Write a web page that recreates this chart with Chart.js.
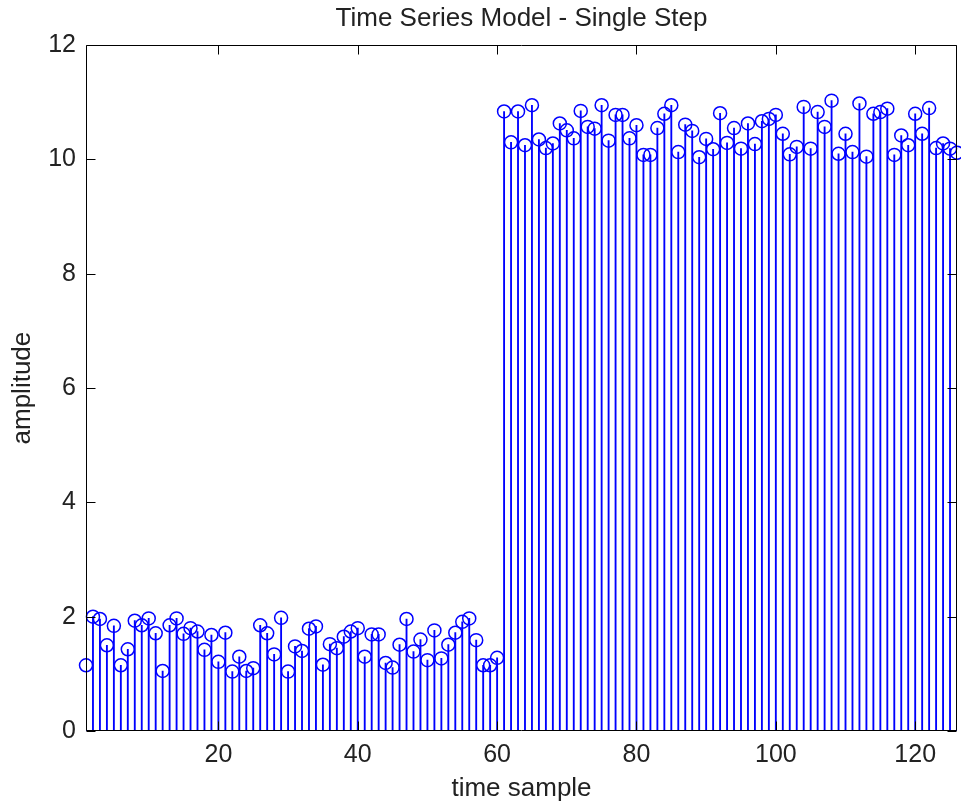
<!DOCTYPE html>
<html>
<head>
<meta charset="utf-8">
<script src="https://cdn.jsdelivr.net/npm/chart.js@4/dist/chart.umd.min.js"></script>
<style>
  body { margin: 0; background: #fff; }
  #wrap { width: 961px; height: 808px; }
</style>
</head>
<body>
<div id="wrap"><canvas id="chart" width="961" height="808"></canvas></div>
<script>
// values, sample 1..126
const amplitude = [
  1.15, 2.00, 1.96, 1.50, 1.84, 1.15, 1.43, 1.93, 1.85, 1.97,
  1.71, 1.05, 1.85, 1.97, 1.70, 1.80, 1.74, 1.42, 1.68, 1.21,
  1.72, 1.04, 1.30, 1.05, 1.10, 1.85, 1.71, 1.34, 1.98, 1.04,
  1.48, 1.40, 1.79, 1.83, 1.16, 1.52, 1.45, 1.65, 1.74, 1.80,
  1.30, 1.69, 1.69, 1.19, 1.11, 1.51, 1.96, 1.39, 1.60, 1.24,
  1.76, 1.27, 1.51, 1.72, 1.91, 1.97, 1.59, 1.15, 1.15, 1.28,
  10.84, 10.30, 10.84, 10.25, 10.95, 10.35, 10.20, 10.28, 10.63, 10.51,
  10.37, 10.85, 10.57, 10.54, 10.95, 10.33, 10.78, 10.78, 10.37, 10.60,
  10.08, 10.08, 10.55, 10.80, 10.95, 10.13, 10.61, 10.50, 10.04, 10.36,
  10.18, 10.81, 10.29, 10.55, 10.19, 10.63, 10.27, 10.67, 10.71, 10.78,
  10.45, 10.09, 10.22, 10.92, 10.19, 10.83, 10.57, 11.03, 10.10, 10.45,
  10.13, 10.98, 10.05, 10.80, 10.83, 10.89, 10.08, 10.42, 10.25, 10.80,
  10.45, 10.90, 10.20, 10.28, 10.19, 10.12
];
const timeSample = amplitude.map((_, i) => i + 1);
const xTicks = [20, 40, 60, 80, 100, 120];
const yTicks = [0, 2, 4, 6, 8, 10, 12];

const points = timeSample.map((t, i) => ({ x: t, y: amplitude[i] }));
const blue = "#0000ff";
const family = "Liberation Sans, Arial, sans-serif";
const tickFont = { family, size: 25 };
const labelFont = { family, size: 26 };

// matlab style box with inward ticks on every side
const boxTicks = {
  id: "boxTicks",
  afterDatasetsDraw(chart) {
    const { ctx, chartArea: a, scales: { x, y } } = chart;
    const len = 9;
    const l = Math.round(a.left) + 0.5, r = Math.round(a.right) - 0.5;
    const t = Math.round(a.top) + 0.5, b = Math.round(a.bottom) - 0.5;
    ctx.save();
    ctx.strokeStyle = "#000";
    ctx.lineWidth = 1;
    ctx.beginPath();
    ctx.rect(l, t, r - l, b - t);
    xTicks.forEach(v => {
      const px = Math.round(x.getPixelForValue(v)) + 0.5;
      ctx.moveTo(px, b); ctx.lineTo(px, b - len);
      ctx.moveTo(px, t); ctx.lineTo(px, t + len);
    });
    yTicks.forEach(v => {
      const py = Math.round(y.getPixelForValue(v)) + 0.5;
      ctx.moveTo(l, py); ctx.lineTo(l + len, py);
      ctx.moveTo(r, py); ctx.lineTo(r - len, py);
    });
    ctx.stroke();
    ctx.restore();
  }
};

new Chart(document.getElementById("chart"), {
  type: "bar",
  data: {
    datasets: [
      {
        type: "scatter",
        data: points,
        showLine: false,
        pointStyle: "circle",
        pointRadius: 6.5,
        pointBorderWidth: 1.5,
        pointBorderColor: blue,
        pointBackgroundColor: "rgba(0,0,0,0)",
        clip: false
      },
      {
        type: "bar",
        data: points,
        backgroundColor: blue,
        barThickness: 1.2,
        grouped: false
      }
    ]
  },
  plugins: [boxTicks],
  options: {
    responsive: false,
    devicePixelRatio: 1,
    animation: false,
    layout: { autoPadding: false, padding: { top: 0, right: 4, left: 0, bottom: 0 } },
    plugins: {
      legend: { display: false },
      tooltip: { enabled: false },
      title: {
        display: true,
        fullSize: false,
        text: "Time Series Model - Single Step",
        color: "#222",
        font: { ...labelFont, weight: "normal" },
        padding: { top: 3, bottom: 11 }
      }
    },
    scales: {
      x: {
        type: "linear",
        min: 1,
        max: 126,
        offset: false,
        afterBuildTicks: s => { s.ticks = xTicks.map(v => ({ value: v })); },
        afterFit: s => { s.height = 77; },
        grid: { display: false },
        border: { display: false },
        ticks: { color: "#222", font: tickFont, padding: 1, maxRotation: 0 },
        title: { display: true, text: "time sample", color: "#222", font: labelFont, padding: { top: 0, bottom: 4 } }
      },
      y: {
        min: 0,
        max: 12,
        afterBuildTicks: s => { s.ticks = yTicks.map(v => ({ value: v })); },
        afterFit: s => { s.width = 86; },
        grid: { display: false },
        border: { display: false },
        ticks: { color: "#222", font: tickFont, padding: 2 },
        title: { display: true, text: "amplitude", color: "#222", font: labelFont, padding: { top: 7, bottom: 0 } }
      }
    }
  }
});
</script>
</body>
</html>
